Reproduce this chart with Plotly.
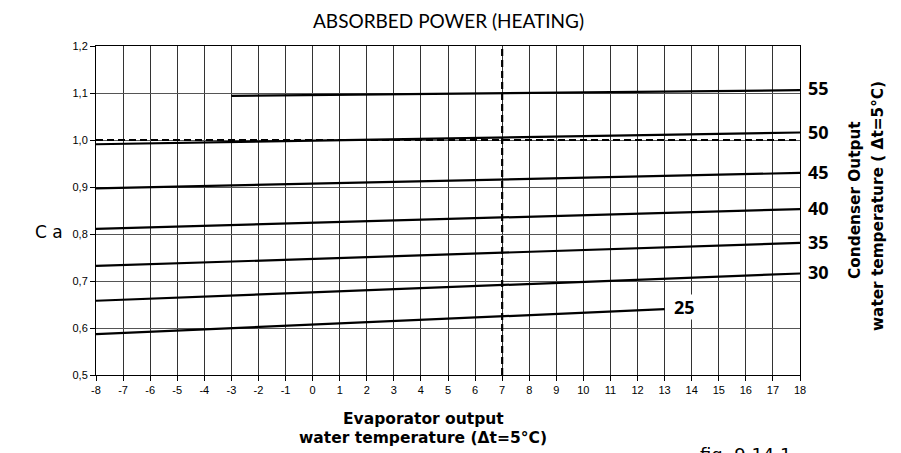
import plotly.graph_objects as go

# Condenser output water temperature curves (linear lines): start/end points
curve_names = ["25", "30", "35", "40", "45", "50", "55"]
x_start = [-8, -8, -8, -8, -8, -8, -3]
x_end = [13, 18, 18, 18, 18, 18, 18]
y_start = [0.587, 0.658, 0.732, 0.811, 0.897, 0.991, 1.094]
y_end = [0.640, 0.716, 0.781, 0.853, 0.930, 1.016, 1.106]

# label y positions (data coords)
label_y = [0.645, 0.720, 0.783, 0.855, 0.931, 1.016, 1.110]

x_ticks = list(range(-8, 19))
x_ticklabels = [str(v) for v in x_ticks]
y_ticks = [0.5, 0.6, 0.7, 0.8, 0.9, 1.0, 1.1, 1.2]
y_ticklabels = ["0,5", "0,6", "0,7", "0,8", "0,9", "1,0", "1,1", "1,2"]

x_title_lines = ["Evaporator output", "water temperature (Δt=5°C)"]
y2_title_lines = ["Condenser Output", "water temperature ( Δt=5°C)"]

ref_x = 7
ref_y = 1.0

LABEL_FONT = "DejaVu Sans, Open Sans"

fig = go.Figure()

for i, n in enumerate(curve_names):
    fig.add_trace(go.Scatter(
        x=[x_start[i], x_end[i]], y=[y_start[i], y_end[i]],
        mode="lines", line=dict(color="black", width=2.2),
        showlegend=False, hoverinfo="skip"))

# dashed reference lines
fig.add_trace(go.Scatter(x=[x_ticks[0], x_ticks[-1]], y=[ref_y, ref_y], mode="lines",
                         line=dict(color="black", width=2, dash="7px,4px"),
                         showlegend=False, hoverinfo="skip"))
fig.add_trace(go.Scatter(x=[ref_x, ref_x], y=[y_ticks[0], y_ticks[-1]], mode="lines",
                         line=dict(color="black", width=2.2, dash="7px,4px"),
                         showlegend=False, hoverinfo="skip"))

for i, n in enumerate(curve_names):
    if n == "25":
        fig.add_annotation(x=x_end[i], y=label_y[i], text="<b>%s</b>" % n, xshift=8,
                           showarrow=False, xanchor="left", yanchor="middle",
                           font=dict(family="Open Sans", size=18, color="black"),
                           bgcolor="white", borderpad=0)
    else:
        fig.add_annotation(xref="paper", x=1.0, y=label_y[i], text="<b>%s</b>" % n, xshift=6,
                           showarrow=False, xanchor="left", yanchor="middle",
                           font=dict(family="Open Sans", size=18, color="black"))

fig.add_annotation(xref="paper", yref="paper", x=0.5, y=1.0, yshift=12,
                   text="ABSORBED POWER (HEATING)", showarrow=False,
                   xanchor="center", yanchor="bottom",
                   font=dict(family="Lato, Open Sans", size=19, color="black"))

fig.add_annotation(xref="paper", yref="paper", x=-0.044, y=0.435,
                   text="C a", showarrow=False, xanchor="right", yanchor="middle",
                   font=dict(family="DejaVu Sans, Liberation Sans", size=17, color="black"))

for txt, yy in zip(x_title_lines, [-0.133, -0.192]):
    fig.add_annotation(xref="paper", yref="paper", x=0.4645, y=yy,
                       text="<b>%s</b>" % txt,
                       showarrow=False, xanchor="center", yanchor="middle",
                       font=dict(family=LABEL_FONT, size=15.5, color="black"))

for txt, xx, yy in zip(y2_title_lines, [1.078, 1.111], [0.532, 0.514]):
    fig.add_annotation(xref="paper", yref="paper", x=xx, y=yy,
                       text="<b>%s</b>" % txt,
                       showarrow=False, textangle=-90, xanchor="center", yanchor="middle",
                       font=dict(family=LABEL_FONT, size=15.3, color="black"))

fig.add_annotation(xref="paper", yref="paper", x=0.922, y=-0.205,
                   text="fig. 9.14.1", showarrow=False, xanchor="center", yanchor="top",
                   font=dict(family="DejaVu Sans, Liberation Sans", size=18, color="black"))

fig.update_xaxes(range=[x_ticks[0], x_ticks[-1]], tickvals=x_ticks, ticktext=x_ticklabels,
                 showgrid=True, gridcolor="#333", gridwidth=1,
                 showline=True, linecolor="black", linewidth=1, mirror=True,
                 ticks="outside", ticklen=5, tickcolor="black",
                 tickfont=dict(family="Liberation Sans, Arial", size=11, color="black"),
                 zeroline=False)
fig.update_yaxes(range=[y_ticks[0], y_ticks[-1]], tickvals=y_ticks, ticktext=y_ticklabels,
                 showgrid=True, gridcolor="#555", gridwidth=1,
                 showline=True, linecolor="black", linewidth=1, mirror=True,
                 ticks="outside", ticklen=5, tickcolor="black",
                 tickfont=dict(family="Liberation Sans, Arial", size=11, color="black"),
                 zeroline=False)

fig.update_layout(width=893, height=445, plot_bgcolor="white", paper_bgcolor="white",
                  margin=dict(l=88, r=101, t=38, b=78))

fig.write_html("out.html")
